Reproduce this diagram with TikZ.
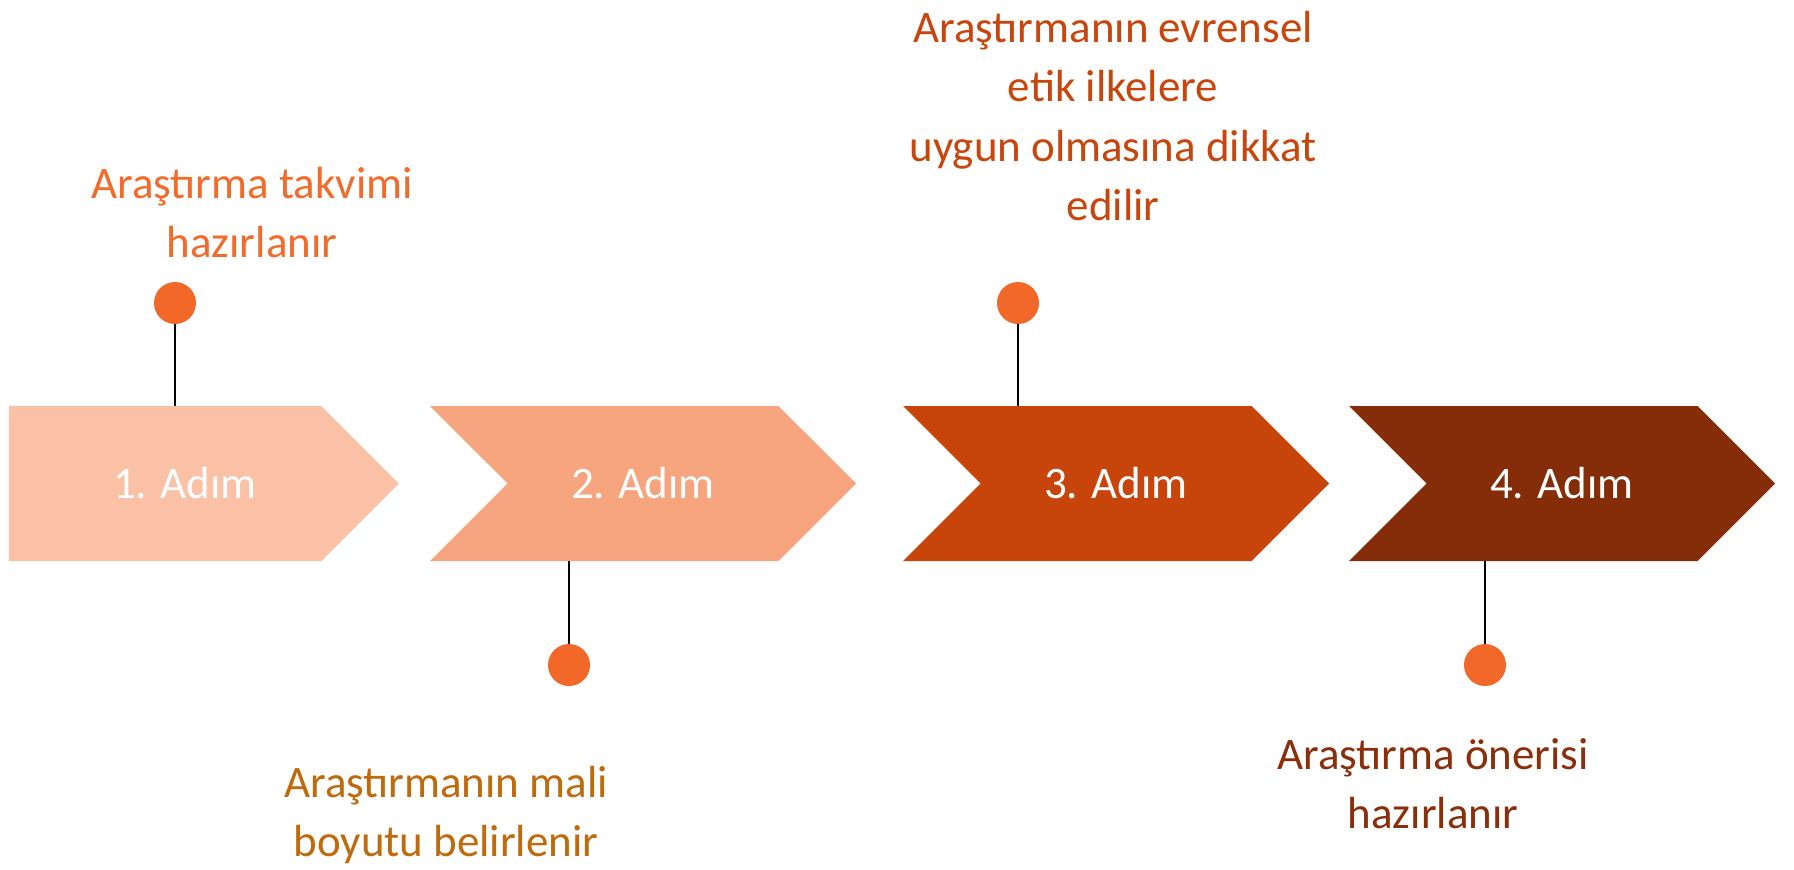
\documentclass[tikz,border=0pt]{standalone}
\usepackage{fontspec}
\setmainfont{Carlito}
\usepackage{tikz}
\usetikzlibrary{shapes.symbols}
\definecolor{adim1}{HTML}{FAC1A6}
\definecolor{adim2}{HTML}{F7A57E}
\definecolor{adim3}{HTML}{C7440A}
\definecolor{adim4}{HTML}{852C09}
\definecolor{bead}{HTML}{F26829}
\definecolor{note1}{HTML}{F26B2A}
\definecolor{note2}{HTML}{BF6A0C}
\definecolor{note3}{HTML}{C8460D}
\definecolor{note4}{HTML}{8A2E0B}

\begin{document}
\begin{tikzpicture}[
  x=0.025cm, y=-0.025cm,
  adim/.style={signal, signal to=east, signal from=west, draw=none,
    minimum width=426*0.025cm, minimum height=155*0.025cm, inner sep=0pt,
    text=white, font=\fontsize{32}{36}\selectfont},
  adimtext/.style={text=white, font=\fontsize{32}{36}\selectfont},
  beadnode/.style={circle, fill=bead, minimum size=42*0.025cm, inner sep=0pt},
  note/.style={align=center, font=\fontsize{32}{42}\selectfont},
  stick/.style={line width=1.1pt}
]
\useasboundingbox[fill=white] (0,0) rectangle (1794,869);
\node[adim, signal from=nowhere, minimum width=390*0.025cm, fill=adim1,
  label={[adimtext, xshift=20*0.025cm]center:1. Adım}] (A1) at (165,483.5) {};
\node[adim, fill=adim2] (A2) at (643,483.5) {2. Adım};
\node[adim, fill=adim3] (A3) at (1116,483.5) {3. Adım};
\node[adim, fill=adim4] (A4) at (1562,483.5) {4. Adım};
\node[beadnode] (D1) at (175,303) {};
\node[beadnode] (D2) at (569,665) {};
\node[beadnode] (D3) at (1018,303) {};
\node[beadnode] (D4) at (1485,665) {};
\draw[stick] (D1) -- (D1 |- A1.north);
\draw[stick] (D2) -- (D2 |- A2.south);
\draw[stick] (D3) -- (D3 |- A3.north);
\draw[stick] (D4) -- (D4 |- A4.south);
\node[note, text=note1] (T1) at (252,213) {Araştırma takvimi\\hazırlanır};
\node[note, text=note2] (T2) at (446,815) {Araştırmanın mali\\boyutu belirlenir};
\node[note, text=note3] (T3) at (1113,116) {Araştırmanın evrensel\\etik ilkelere\\uygun olmasına dikkat\\edilir};
\node[note, text=note4] (T4) at (1433,784) {Araştırma önerisi\\hazırlanır};
\end{tikzpicture}
\end{document}
